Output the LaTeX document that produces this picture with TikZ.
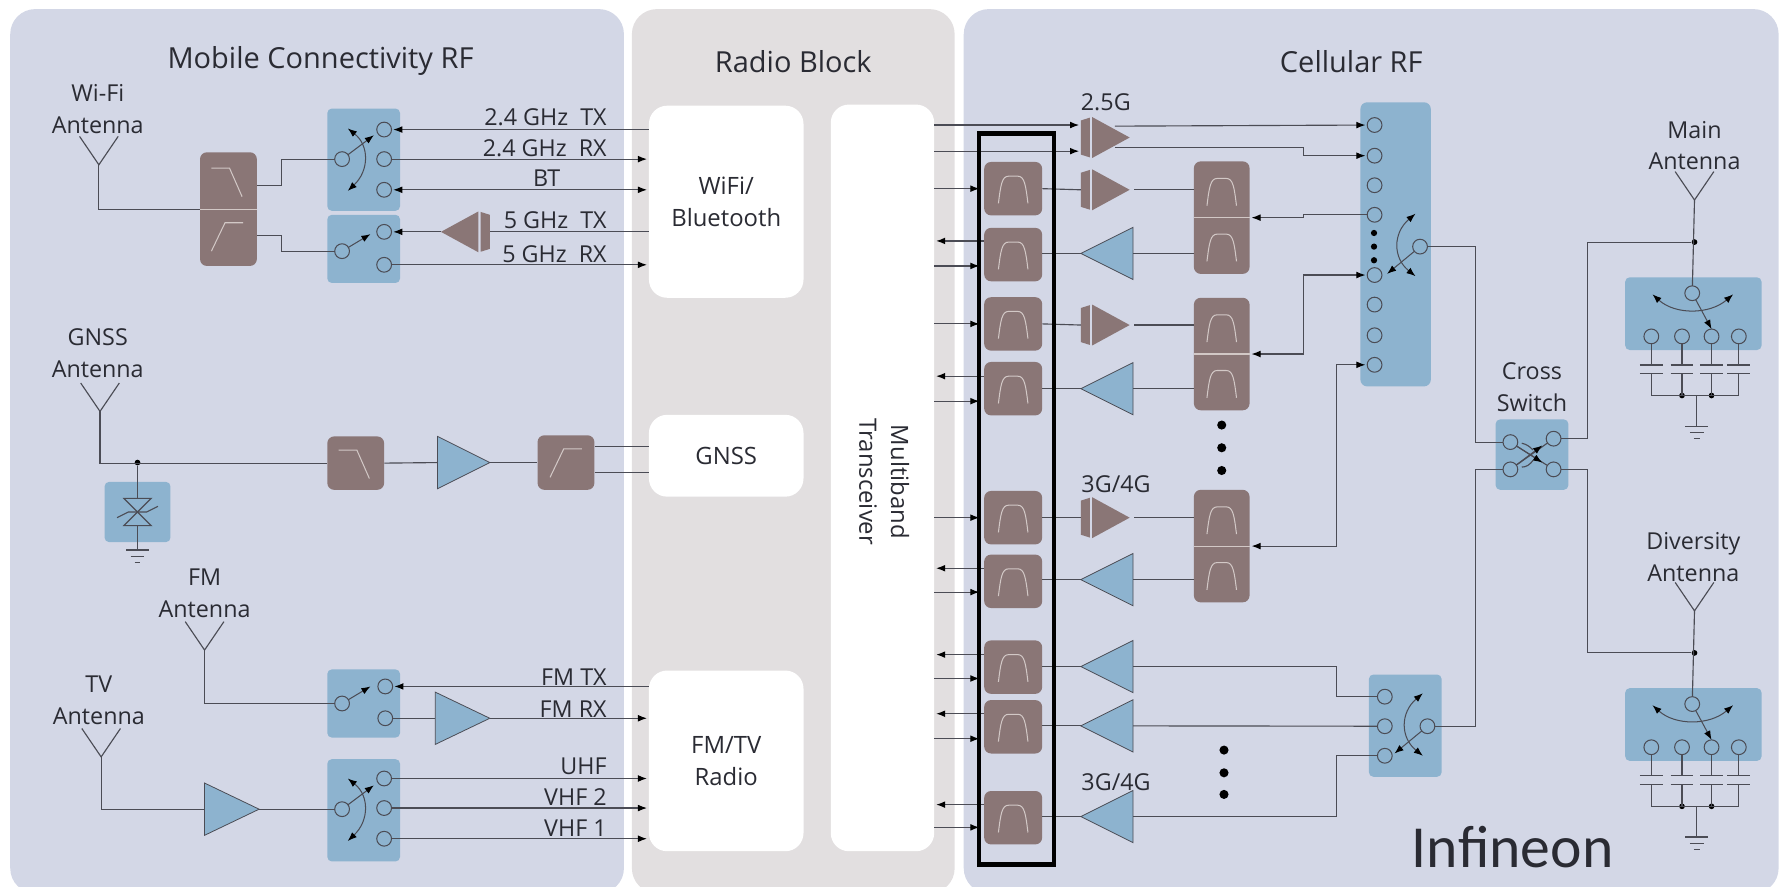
\documentclass[tikz,border=0pt]{standalone}
\usepackage{fontspec}
\setmainfont{Open Sans}
\newfontfamily\brandfont{Carlito}
\usepackage{tikz}
\usetikzlibrary{arrows.meta,shapes.geometric}
\definecolor{panelc}{HTML}{D3D7E6}
\definecolor{radioc}{HTML}{E2DFE0}
\definecolor{swc}{HTML}{8DB3CF}
\definecolor{fltc}{HTML}{8A7676}
\definecolor{glyphc}{HTML}{D2C8C6}
\definecolor{linec}{HTML}{4B4C55}
\definecolor{textc}{HTML}{2A2B33}
\tikzset{
  panel/.style={fill=#1,rounded corners=22pt,inner sep=0pt},
  block/.style={fill=white,rounded corners=16pt,inner sep=0pt,text=textc,font=\fontsize{21}{28}\selectfont,align=center},
  lab/.style={text=textc,font=\fontsize{20.5}{28}\selectfont,align=center,inner sep=0pt},
  ttl/.style={text=textc,font=\fontsize{25.5}{28}\selectfont,inner sep=0pt},
  wire/.style={draw=linec,line width=1pt},
  tipk/.tip={Latex[length=8pt,width=6pt,color=black]},
  arr/.style={-tipk,shorten >=1.5pt},
  arf/.style={-tipk,shorten >=4pt},
  biarr/.style={tipk-tipk,shorten >=1.5pt,shorten <=1.5pt},
  swarm/.style={draw=linec,line width=0.9pt,-tipk},
  swcurve/.style={draw=linec,line width=0.9pt,tipk-tipk},
  swbox/.style={fill=swc,rounded corners=4pt,inner sep=0pt},
  port/.style={circle,draw=linec,line width=0.9pt,fill=swc,inner sep=0pt,minimum size=13pt,outer sep=0pt},
  flt/.style={fill=fltc,rounded corners=6pt,inner sep=0pt,minimum width=51pt,minimum height=47pt},
  glyph/.style={draw=glyphc,line width=0.9pt},
  ampb/.style={isosceles triangle,isosceles triangle stretches,minimum width=46pt,minimum height=46pt,inner sep=0pt,outer sep=0pt,draw=linec,line width=0.7pt,fill=swc,anchor=apex},
  dotm/.style={circle,fill=black,inner sep=0pt,minimum size=#1},
  dotm/.default=5pt
}
\newcommand{\bandpass}[1]{\draw[glyph,shift={(#1)}] (-13,13) .. controls (-11,-3) and (-10,-11) .. (-4,-11) -- (4,-11) .. controls (10,-11) and (11,-3) .. (13,13);}
\newcommand{\lowpass}[1]{\draw[glyph,shift={(#1)}] (-14,-12) -- (2,-12) -- (13,13);}
\newcommand{\highpass}[1]{\draw[glyph,shift={(#1)}] (-14,13) -- (-2,-12) -- (14,-12);}
\newcommand{\antenna}[1]{\draw[wire] (#1) ++(-17,-25) -- (#1) -- ++(17,-25);}
\newcommand{\earth}[1]{\draw[wire] (#1) ++(-10,0) -- ++(20,0) (#1) ++(-6,5.5) -- ++(12,0) (#1) ++(-2.5,11) -- ++(5,0);}
% power stage: triangle with a bar behind it, #2 is 1 or -1 for the direction
\newcommand{\powamp}[2]{
  \begin{scope}[shift={(#1)},xscale=#2]
    \fill[fltc] (0,0) -- (-33,-18) -- (-33,18) -- cycle;
    \fill[fltc] (-35,-17.5) -- (-43,-15) -- (-43,15) -- (-35,17.5) -- cycle;
    \coordinate (#1b) at (-43,0);
  \end{scope}}
\newcommand{\swleft}[1]{
  \draw[swcurve,shift={(#1)}] (5,-27) .. controls (24,-12) and (24,10) .. (5,28);
  \draw[swarm] (#1) -- ++(28,-21);}
\newcommand{\swone}[1]{\draw[swarm] (#1) -- ++(25,-15);}
\newcommand{\swright}[1]{
  \draw[swcurve,shift={(#1)}] (-4,-29) .. controls (-24,-12) and (-24,10) .. (-4,26);
  \draw[swarm] (#1) -- ++(-29,24);}
% antenna switch with four tuned ports
\newcommand{\tuner}[2]{
  \begin{scope}[shift={(0,#2)}]
    \coordinate (#1a) at (1491,176);
    \node[dotm] (#1t) at (1491,213) {};
    \node[swbox,minimum width=120pt,minimum height=64pt] (#1b) at (1490,276) {};
    \node[port] (#1c) at (1489,258) {};
    \node[port] (#1p) at (1453,296) {};
    \node[port] (#1q) at (1480,296) {};
    \node[port] (#1r) at (1506,296) {};
    \node[port] (#1s) at (1530,296) {};
    \node[dotm] (#1u) at (1480,348) {};
    \node[dotm] (#1v) at (1506,348) {};
    \coordinate (#1g) at (1493,375);
    \coordinate (#1j) at (1493,348);
    \antenna{#1a}
    \draw[wire] (#1a) -- (#1c);
    \draw[swcurve,shift={(#1c)}] (-35,1) .. controls (-15,19) and (15,19) .. (36,1);
    \draw[swarm] (#1c) -- (#1r.north);
    \foreach \n in {p,q,r,s} {
      \draw[wire] (#1\n) -- (#1\n |- #1j);
      \draw[fill=panelc,draw=panelc] (#1\n) ++(-10,25) rectangle ++(20,7.5);
      \draw[wire,line width=1.2pt] (#1\n) ++(-10,25) -- ++(20,0) ++(-20,7.5) -- ++(20,0);
    }
    \draw[wire] (#1p |- #1j) -- (#1s |- #1j);
    \draw[wire] (#1j) -- (#1g);
    \earth{#1g}
  \end{scope}}
\begin{document}
\begin{tikzpicture}[x=1pt,y=-1pt]
    \useasboundingbox (0,0) rectangle (1568,779.6);
    % panels
    \node[panel=panelc,minimum width=540pt,minimum height=778pt] (lp) at (279,397) {};
    \node[panel=radioc,minimum width=284pt,minimum height=778pt] (mp) at (698,397) {};
    \node[panel=panelc,minimum width=717pt,minimum height=778pt] (rp) at (1206.5,397) {};
    \node[ttl] (lt) at (282,54) {Mobile Connectivity RF};
    \node[ttl] (mt) at (698,54) {Radio Block};
    \node[ttl] (rt) at (1189,54) {Cellular RF};
    \node[block,minimum width=136pt,minimum height=169pt] (wifi) at (639,177.5) {WiFi/\\Bluetooth};
    \node[block,minimum width=136pt,minimum height=72pt] (gnss) at (639,401) {GNSS};
    \node[block,minimum width=136pt,minimum height=159pt] (fmtv) at (639,669.5) {FM/TV\\Radio};
    \node[block,minimum width=91pt,minimum height=657pt] (mbt) at (776.5,420.5) {};
    \node[block,rotate=-90] (mbtt) at (778,424) {Multiband\\Transceiver};
    % wifi part
    \node[lab] (wl) at (86,96) {Wi-Fi\\Antenna};
    \coordinate (wa) at (87,145);
    \node[flt,minimum width=50pt,minimum height=100pt] (dx) at (201,184) {};
    \node[swbox,minimum width=64pt,minimum height=90pt] (wsa) at (320,140.5) {};
    \node[swbox,minimum width=64pt,minimum height=60pt] (wsb) at (320,219) {};
    \node[port] (wc) at (301,140) {};
    \node[port] (w1) at (338,114) {};
    \node[port] (w2) at (338,140) {};
    \node[port] (w3) at (338,167) {};
    \node[port] (wd) at (301,221) {};
    \node[port] (w4) at (338,204) {};
    \node[port] (w5) at (338,233) {};
    \coordinate (wj) at (248,150);
    \coordinate (wk) at (248,215);
    \coordinate (wg) at (388,204);
    \powamp{wg}{-1}
    \antenna{wa}
    \draw[wire] (wa) |- (dx.west);
    \draw[glyphc,line width=1pt] (dx.west) -- (dx.east);
    \lowpass{200,160}
    \highpass{200,208}
    \draw[wire] (dx.east |- 0,163) -| (wj) |- (wc);
    \draw[wire] (dx.east |- 0,207) -| (wk) |- (wd);
    \swleft{wc}
    \swone{wd}
    \draw[wire,arr] (wifi.west |- w1) -- (w1);
    \draw[wire,arr] (w2) -- (wifi.west |- w2);
    \draw[wire,biarr] (w3) -- (wifi.west |- w3);
    \draw[wire] (wifi.west |- w4) -- (wgb);
    \draw[wire,arr] (wg) -- (w4);
    \draw[wire,arr] (w5) -- (wifi.west |- w5);
    \node[lab,anchor=east] (ta) at (534,103) {2.4 GHz\ \ TX};
    \node[lab,anchor=east] (tb) at (534,130) {2.4 GHz\ \ RX};
    \node[lab] (tc) at (481,157) {BT};
    \node[lab,anchor=east] (td) at (534,194) {5 GHz\ \ TX};
    \node[lab,anchor=east] (te) at (534,224) {5 GHz\ \ RX};
    % gnss part
    \node[lab] (gl) at (86,311) {GNSS\\Antenna};
    \coordinate (ga) at (88,362);
    \node[dotm] (gd) at (121,407) {};
    \node[flt,minimum width=50pt] (glp) at (313,407.5) {};
    \node[ampb,minimum height=46pt] (ga1) at (431,407) {};
    \node[flt,minimum width=50pt,minimum height=48pt] (ghp) at (498,407) {};
    \node[swbox,minimum width=58pt,minimum height=53pt] (gv) at (121,450.5) {};
    \coordinate (ge) at (121,484);
    \antenna{ga}
    \draw[wire] (ga) |- (glp.west);
    \draw[wire] (glp.east) -- (ga1.lower side);
    \draw[wire] (ga1.apex) -- (ghp.west);
    \draw[wire] (ghp.east |- 0,393) -- (gnss.west |- 0,393);
    \draw[wire] (ghp.east |- 0,416) -- (gnss.west |- 0,416);
    \lowpass{312,408}
    \highpass{498,407}
    \draw[wire] (gd) -- (ge);
    \draw[wire,fill=swc,shift={(gv)}] (-12,-12) -- (12,-12) -- (0,0) -- cycle;
    \draw[wire,fill=swc,shift={(gv)}] (-12,12) -- (12,12) -- (0,0) -- cycle;
    \draw[wire,shift={(gv)}] (-18,5) -- (-8,0) -- (8,0) -- (18,-5);
    \earth{ge}
    % fm and tv part
    \node[lab] (fl) at (180,522) {FM\\Antenna};
    \coordinate (fa) at (180,572);
    \node[swbox,minimum width=64pt,minimum height=60pt] (fs) at (320,619) {};
    \node[port] (fc) at (301,619) {};
    \node[port] (f1p) at (339,604) {};
    \node[port] (f2p) at (339,632) {};
    \node[ampb,minimum height=48pt] (fg) at (431,632) {};
    \node[lab] (vl) at (87,616) {TV\\Antenna};
    \coordinate (va) at (89,666);
    \node[ampb,minimum height=48pt] (vg) at (228,712) {};
    \node[swbox,minimum width=64pt,minimum height=90pt] (vs) at (320,713) {};
    \node[port] (vc) at (301,712) {};
    \node[port] (v1) at (338,685) {};
    \node[port] (v2) at (338,711) {};
    \node[port] (v3) at (338,738) {};
    \antenna{fa}
    \antenna{va}
    \draw[wire] (fa) |- (fc);
    \swone{fc}
    \draw[wire,arr] (fmtv.west |- f1p) -- (f1p);
    \draw[wire] (f2p) -- (fg.lower side);
    \draw[wire,arr] (fg.apex) -- (fmtv.west |- f2p);
    \draw[wire] (va) |- (vg.lower side);
    \draw[wire] (vg.apex) -- (vc);
    \swleft{vc}
    \draw[wire,arr] (v1) -- (fmtv.west |- v1);
    \draw[wire,arr] (v2) -- (fmtv.west |- v2);
    \draw[wire,arr] (v3) -- (fmtv.west |- v3);
    \node[lab,anchor=east] (tf) at (534,596) {FM TX};
    \node[lab,anchor=east] (tg) at (534,624) {FM RX};
    \node[lab,anchor=east] (th) at (534,674) {UHF};
    \node[lab,anchor=east] (ti) at (534,701) {VHF 2};
    \node[lab,anchor=east] (tj) at (534,729) {VHF 1};
    % filter column
    \node[flt] (f1) at (891.5,166) {};
    \node[flt] (f2) at (891.5,224) {};
    \node[flt] (f3) at (891.5,285) {};
    \node[flt] (f4) at (891.5,342) {};
    \node[flt] (f5) at (891.5,455.5) {};
    \node[flt] (f6) at (891.5,511.5) {};
    \node[flt] (f7) at (891.5,587) {};
    \node[flt] (f8) at (891.5,639.5) {};
    \node[flt] (f9) at (891.5,719.5) {};
    \bandpass{f1}
    \bandpass{f2}
    \bandpass{f3}
    \bandpass{f4}
    \bandpass{f5}
    \bandpass{f6}
    \bandpass{f7}
    \bandpass{f8}
    \bandpass{f9}
    \draw[wire,arf] (mbt.east |- f1) -- (f1.west);
    \draw[wire,arr] (f2.west |- 0,212) -- (mbt.east |- 0,212);
    \draw[wire,arf] (mbt.east |- 0,234) -- (f2.west |- 0,234);
    \draw[wire,arf] (mbt.east |- f3) -- (f3.west);
    \draw[wire,arr] (f4.west |- 0,331) -- (mbt.east |- 0,331);
    \draw[wire,arf] (mbt.east |- 0,353) -- (f4.west |- 0,353);
    \draw[wire,arf] (mbt.east |- f5) -- (f5.west);
    \draw[wire,arr] (f6.west |- 0,500) -- (mbt.east |- 0,500);
    \draw[wire,arf] (mbt.east |- 0,521) -- (f6.west |- 0,521);
    \draw[wire,arr] (f7.west |- 0,576) -- (mbt.east |- 0,576);
    \draw[wire,arf] (mbt.east |- 0,597) -- (f7.west |- 0,597);
    \draw[wire,arr] (f8.west |- 0,628) -- (mbt.east |- 0,628);
    \draw[wire,arf] (mbt.east |- 0,650) -- (f8.west |- 0,650);
    \draw[wire,arr] (f9.west |- 0,708) -- (mbt.east |- 0,708);
    \draw[wire,arf] (mbt.east |- 0,728) -- (f9.west |- 0,728);
    % cellular amplifiers
    \node[lab] (tk) at (973,90) {2.5G};
    \node[lab] (tl) at (982,426) {3G/4G};
    \node[lab] (tm) at (982,688) {3G/4G};
    \coordinate (g0) at (994,121);
    \coordinate (g1) at (994,167);
    \coordinate (g3) at (994,286);
    \coordinate (g5) at (994,455.5);
    \powamp{g0}{1}
    \powamp{g1}{1}
    \powamp{g3}{1}
    \powamp{g5}{1}
    \node[ampb,shape border rotate=180] (u2) at (951,223) {};
    \node[ampb,shape border rotate=180] (u4) at (951,342) {};
    \node[ampb,shape border rotate=180] (u6) at (951,510) {};
    \node[ampb,shape border rotate=180] (u7) at (951,586.5) {};
    \node[ampb,shape border rotate=180] (u8) at (951,638.7) {};
    \node[ampb,shape border rotate=180] (u9) at (951,718.5) {};
    \node[flt,minimum width=49pt,minimum height=99pt] (d1) at (1075,191.5) {};
    \node[flt,minimum width=49pt,minimum height=99pt] (d2) at (1075,311.5) {};
    \node[flt,minimum width=49pt,minimum height=99pt] (d3) at (1075,480.5) {};
    \draw[glyphc,line width=1pt] (d1.west) -- (d1.east);
    \draw[glyphc,line width=1pt] (d2.west) -- (d2.east);
    \draw[glyphc,line width=1pt] (d3.west) -- (d3.east);
    \bandpass{1075,168}
    \bandpass{1075,217}
    \bandpass{1075,288}
    \bandpass{1075,337}
    \bandpass{1075,457}
    \bandpass{1075,506}
    \draw[wire,arr] (mbt.east |- 0,110) -- (g0b |- 0,110);
    \draw[wire,arr] (mbt.east |- 0,133) -- (g0b |- 0,133);
    \draw[wire] (f1.east) -- (g1b);
    \draw[wire] (f3.east) -- (g3b);
    \draw[wire] (f5.east) -- (g5b);
    \draw[wire] (f2.east |- u2.apex) -- (u2.apex);
    \draw[wire] (f4.east |- u4.apex) -- (u4.apex);
    \draw[wire] (f6.east |- u6.apex) -- (u6.apex);
    \draw[wire] (f7.east |- u7.apex) -- (u7.apex);
    \draw[wire] (f8.east |- u8.apex) -- (u8.apex);
    \draw[wire] (f9.east |- u9.apex) -- (u9.apex);
    \draw[wire,shorten <=4pt] (g1) -- (d1.west |- g1);
    \draw[wire,shorten <=4pt] (g3) -- (d2.west |- g3);
    \draw[wire,shorten <=4pt] (g5) -- (d3.west |- g5);
    \draw[wire] (u2.lower side) -- (d1.west |- u2.lower side);
    \draw[wire] (u4.lower side) -- (d2.west |- u4.lower side);
    \draw[wire] (u6.lower side) -- (d3.west |- u6.lower side);
    \node[dotm=8pt] (ea) at (1075,374) {};
    \node[dotm=8pt] (eb) at (1075,394) {};
    \node[dotm=8pt] (ec) at (1075,414) {};
    \node[dotm=8pt] (ed) at (1077,660) {};
    \node[dotm=8pt] (ee) at (1077,680) {};
    \node[dotm=8pt] (ef) at (1077,699) {};
    % big switch
    \node[swbox,minimum width=62pt,minimum height=250pt,rounded corners=6pt] (sb) at (1228,215) {};
    \node[port] (s1) at (1209.5,110) {};
    \node[port] (s2) at (1209.5,137) {};
    \node[port] (s3) at (1209.5,163) {};
    \node[port] (s4) at (1209.5,189) {};
    \node[port] (s5) at (1209.5,242) {};
    \node[port] (s6) at (1209.5,268) {};
    \node[port] (s7) at (1209.5,295) {};
    \node[port] (s8) at (1209.5,321) {};
    \node[port] (sc) at (1249.5,217) {};
    \node[dotm=5.5pt] (sx) at (1209,205) {};
    \node[dotm=5.5pt] (sy) at (1209,217) {};
    \node[dotm=5.5pt] (sz) at (1209,229) {};
    \swright{sc}
    \coordinate (g0u) at (981,111);
    \coordinate (g0d) at (981,130);
    \coordinate (sj0) at (1147,133);
    \coordinate (sj1) at (1147,190);
    \coordinate (sj2) at (1147,280);
    \coordinate (sj3) at (1176,400);
    \draw[wire,arr] (g0u) -- (s1);
    \draw[wire,arr] (g0d) -| (sj0) |- (s2);
    \draw[wire,arr] (s4) -| (sj1) |- (d1.east);
    \draw[wire,biarr] (s5) -| (sj2) |- (d2.east);
    \draw[wire,biarr] (s8) -| (sj3) |- (d3.east);
    % lower switch
    \node[swbox,minimum width=64pt,minimum height=90pt] (lb) at (1236.5,638.5) {};
    \node[port] (l1) at (1218.5,613) {};
    \node[port] (l2) at (1218.5,639) {};
    \node[port] (l3) at (1218.5,665) {};
    \node[port] (lc) at (1256,639) {};
    \swright{lc}
    \coordinate (lj1) at (1176,600);
    \coordinate (lj3) at (1176,690);
    \draw[wire] (u7.lower side) -| (lj1) |- (l1);
    \draw[wire] (u8.lower side) -- (l2);
    \draw[wire] (u9.lower side) -| (lj3) |- (l3);
    % cross switch
    \node[lab] (xl) at (1348,341) {Cross\\Switch};
    \node[swbox,minimum width=64pt,minimum height=62pt] (xb) at (1348,400) {};
    \node[port] (xp) at (1329,389) {};
    \node[port] (xq) at (1367,386) {};
    \node[port] (xr) at (1329,413) {};
    \node[port] (xs) at (1367,413) {};
    \draw[wire] (xp) -- (xs);
    \draw[wire] (xr) -- (xq);
    \draw[swarm] (xr) -- ++(28,-21);
    \draw[swarm] (xp) -- ++(28,18);
    \draw[wire,shift={(xb)}] (-9,-10) .. controls (-5,-9) and (-3,-8) .. (1,-4);
    \draw[wire,shift={(xb)}] (-9,11) .. controls (-5,11) and (-2,9) .. (1,5);
    % antenna switches
    \node[lab] (ml) at (1491,128) {Main\\Antenna};
    \node[lab] (dl) at (1490,490) {Diversity\\Antenna};
    \tuner{m}{0}
    \tuner{n}{361.5}
    \coordinate (cu) at (1298,300);
    \coordinate (cv) at (1298,500);
    \coordinate (cw) at (1397,300);
    \coordinate (cz) at (1397,500);
    \draw[wire] (sc) -| (cu) |- (xp);
    \draw[wire] (lc) -| (cv) |- (xr);
    \draw[wire] (xq) -| (cw) |- (mt);
    \draw[wire] (xs) -| (cz) |- (nt);
    % highlight and brand
    \node[draw=black,line width=4pt,minimum width=66pt,minimum height=643pt,inner sep=0pt] (hl) at (894.5,439) {};
    \node[text=textc,inner sep=0pt,font=\brandfont\fontsize{52.5}{54}\selectfont] (br) at (1331,745) {Infineon};
\end{tikzpicture}
\end{document}
